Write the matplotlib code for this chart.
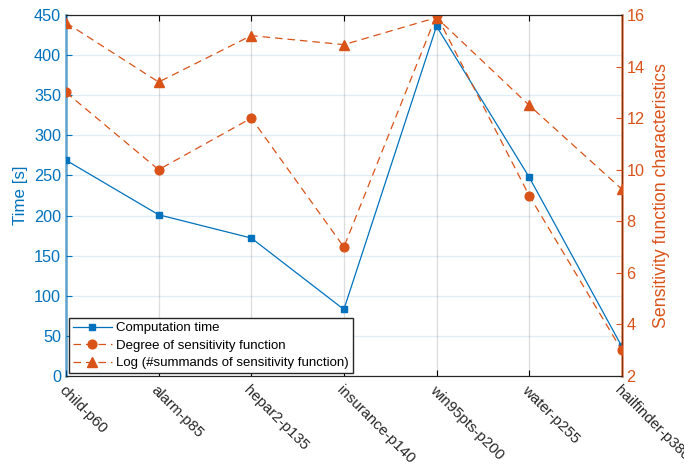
import matplotlib
matplotlib.use("Agg")
import matplotlib.pyplot as plt
import matplotlib.transforms as mtransforms

plt.rcParams['font.family'] = ['Liberation Sans', 'DejaVu Sans']

networks = ["child-p60", "alarm-p85", "hepar2-p135", "insurance-p140",
            "win95pts-p200", "water-p255", "hailfinder-p380"]
comp_time = [269, 201, 172, 83, 436, 248, 37]
degree = [13, 10, 12, 7, 16, 9, 3]
log_summands = [15.7, 13.4, 15.2, 14.85, 15.9, 12.5, 9.25]

blue = "#0072BD"
orange = "#D95319"

fig = plt.figure(figsize=(6.84, 4.76), dpi=100)
ax = fig.add_axes([0.0965, 0.21, 0.8125, 0.7585])
ax2 = ax.twinx()

x = list(range(len(networks)))
l1, = ax.plot(x, comp_time, color=blue, lw=0.9, marker='s', ms=4.3,
              label="Computation time")
l2, = ax2.plot(x, degree, color=orange, lw=0.9, ls=(0, (6, 4)), marker='o', ms=6.3,
               label="Degree of sensitivity function")
l3, = ax2.plot(x, log_summands, color=orange, lw=0.9, ls=(0, (6, 4)), marker='^', ms=7,
               label="Log (#summands of sensitivity function)")

ax.set_xlim(0, 6)
ax.set_ylim(0, 450)
ax2.set_ylim(2, 16)
ax.set_yticks(range(0, 451, 50))
ax2.set_yticks(range(2, 17, 2))
ax.set_xticks(x)
ax.set_xticklabels(networks, rotation=-45, ha='left', va='top',
                   rotation_mode='anchor', fontsize=10.8, color='#262626')
# shift labels slightly left, like the original
shift = mtransforms.ScaledTranslation(-6 / 100, 0, fig.dpi_scale_trans)
for lab in ax.get_xticklabels():
    lab.set_transform(lab.get_transform() + shift)

ax.grid(True, axis='y', color=blue, alpha=0.12, lw=0.9)
ax.grid(True, axis='x', color='#dcdcdc', lw=0.9)
ax.set_axisbelow(True)

ax.tick_params(axis='y', colors=blue, labelsize=11.7, direction='in', length=4)
ax2.tick_params(axis='y', colors=orange, labelsize=11.7, direction='in', length=4)
ax.tick_params(axis='x', direction='in', length=4, top=True, pad=5)

ax.spines['left'].set_color(blue)
ax.spines['left'].set_alpha(0.55)
ax.spines['left'].set_linewidth(2)
ax2.spines['right'].set_color(orange)
ax2.spines['right'].set_alpha(0.6)
ax2.spines['right'].set_linewidth(2)
for a in (ax, ax2):
    a.spines['top'].set_color('#262626')
    a.spines['bottom'].set_color('#262626')
ax2.spines['left'].set_visible(False)

ax.set_ylabel("Time [s]", color=blue, fontsize=12.2, labelpad=4)
ax2.set_ylabel("Sensitivity function characteristics", color=orange,
               fontsize=12.8, labelpad=6)

leg = ax2.legend(handles=[l1, l2, l3], loc='lower left',
                 bbox_to_anchor=(0.0, 0.0), fontsize=9.5, framealpha=1,
                 fancybox=False, edgecolor='#262626', borderpad=0.3,
                 labelspacing=0.41, handlelength=3.0, handletextpad=0.3,
                 borderaxespad=0.2)
leg.get_frame().set_linewidth(1.0)

fig.savefig("out.png", dpi=100)
